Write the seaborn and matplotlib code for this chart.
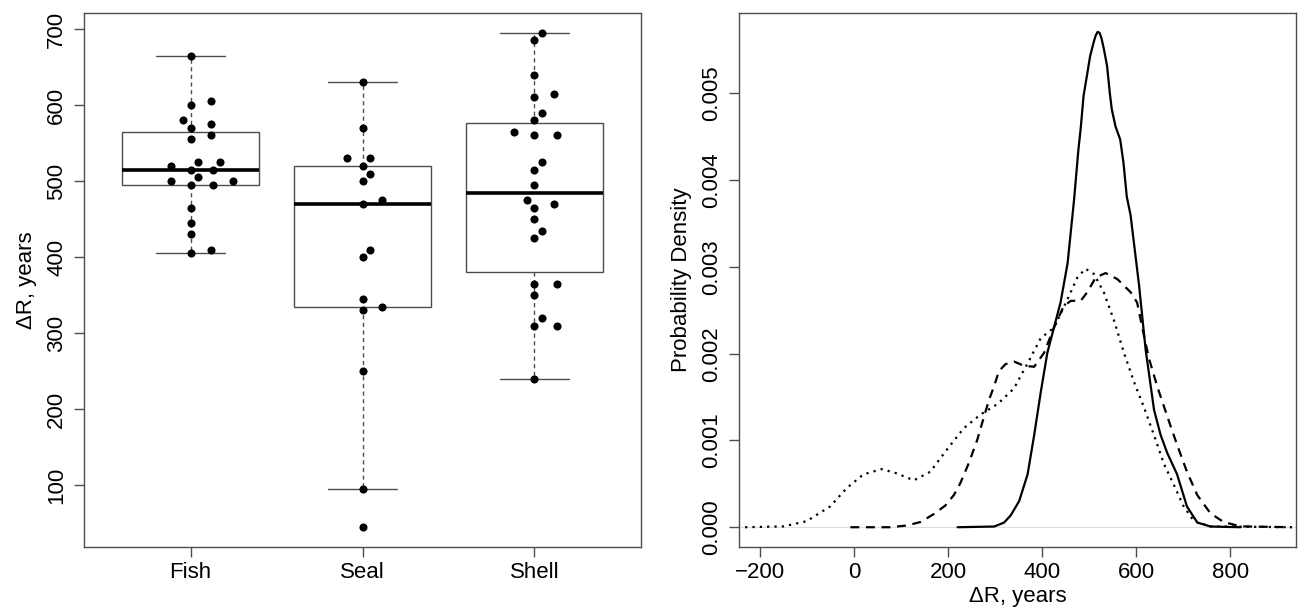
import matplotlib
matplotlib.use("Agg")
import matplotlib.pyplot as plt
import seaborn as sns
import pandas as pd

# data
groups = ["Fish", "Seal", "Shell"]
fish = [665, 605, 600, 580, 575, 570, 560, 555, 525, 525, 520, 515, 515, 505, 500, 500, 495, 495, 465, 445, 430, 410, 405]
fish_jit = [0, .116, 0, -.042, .116, 0, .116, 0, .042, .174, -.116, 0, .132, .042, -.116, .248, .132, 0, 0, 0, 0, .116, 0]
seal = [630, 570, 530, 530, 520, 510, 500, 475, 470, 410, 400, 345, 335, 330, 250, 95, 45]
seal_jit = [0, 0, -.089, .042, 0, .042, 0, .116, 0, .042, 0, 0, .116, 0, 0, 0, 0]
shell = [695, 685, 640, 615, 610, 590, 580, 565, 560, 560, 525, 515, 495, 475, 470, 465, 450, 435, 425, 365, 365, 350, 320, 310, 310, 240]
shell_jit = [.042, 0, 0, .116, 0, .042, 0, -.116, 0, .132, .042, 0, 0, -.042, .116, 0, 0, .042, 0, 0, .132, 0, .042, 0, .132, 0]

# density curves (x in years, density in 1e-3)
fish_x = [220, 298, 319, 333, 351, 369, 383, 397, 411, 425, 439, 454, 468, 477, 482, 488, 495, 502, 510, 514, 518,
          522, 526, 531, 538, 544, 548, 556, 566, 573, 580, 588, 606, 620, 638, 652, 666, 687, 708, 730, 758, 822]
fish_d = [0, 0.008, 0.054, 0.136, 0.301, 0.610, 1.063, 1.558, 2.011, 2.300, 2.588, 3.041, 3.783, 4.35, 4.6, 4.97, 5.2,
          5.43, 5.60, 5.67, 5.71, 5.70, 5.64, 5.52, 5.32, 5.0, 4.82, 4.62, 4.47, 4.2, 3.81, 3.60, 2.794, 2.052, 1.352,
          1.063, 0.857, 0.610, 0.239, 0.054, 0.008, 0]
shell_x = [-8, 77, 112, 141, 169, 194, 212, 226, 244, 262, 276, 287, 298, 308, 322, 340, 362, 383, 404, 425, 446, 461,
           482, 496, 514, 535, 560, 588, 602, 613, 627, 645, 666, 687, 708, 730, 758, 786, 822, 931]
shell_d = [0, 0, 0.02, 0.06, 0.15, 0.25, 0.37, 0.51, 0.74, 1.01, 1.27, 1.47, 1.63, 1.80, 1.88, 1.91, 1.86, 1.85, 2.01,
           2.30, 2.55, 2.61, 2.61, 2.71, 2.88, 2.93, 2.86, 2.71, 2.59, 2.30, 1.95, 1.62, 1.28, 0.95, 0.64, 0.37, 0.16,
           0.06, 0.01, 0]
seal_x = [-232, -150, -101, -51, -16, 20, 59, 91, 127, 162, 198, 233, 269, 305, 340, 369, 397, 425, 454, 475, 492, 510,
          531, 553, 574, 595, 616, 638, 659, 680, 701, 723, 758, 931]
seal_d = [0, 0.01, 0.07, 0.24, 0.45, 0.61, 0.67, 0.62, 0.54, 0.64, 0.90, 1.14, 1.30, 1.42, 1.60, 1.89, 2.18, 2.30,
          2.63, 2.88, 2.98, 2.92, 2.71, 2.38, 2.01, 1.68, 1.39, 1.06, 0.73, 0.49, 0.24, 0.07, 0.01, 0]

sns.set_style("ticks")
plt.rcParams["font.family"] = ["Liberation Sans", "DejaVu Sans"]
plt.rcParams["font.size"] = 16
plt.rcParams["text.color"] = "black"
plt.rcParams["axes.labelcolor"] = "black"

vals = fish + seal + shell
grp = ["Fish"] * len(fish) + ["Seal"] * len(seal) + ["Shell"] * len(shell)
jit = fish_jit + seal_jit + shell_jit
df = pd.DataFrame({"group": grp, "value": vals, "jit": jit})
df["xpos"] = df["group"].map({g: i for i, g in enumerate(groups)}) + df["jit"]

fig = plt.figure(figsize=(12.98, 6.09), dpi=100)
W, H = 1298, 609
ax1 = fig.add_axes([84 / W, 1 - 547 / H, 557 / W, 534 / H])
ax2 = fig.add_axes([739 / W, 1 - 547 / H, 557 / W, 534 / H])

frame = "#4d4d4d"

# left: boxplot + points
sns.boxplot(data=df, x="group", y="value", order=groups, ax=ax1, width=0.8,
            color="white", linecolor=frame, linewidth=1, showfliers=False,
            medianprops=dict(color="black", linewidth=2.6),
            whiskerprops=dict(linestyle=(0, (3, 2.5)), color=frame),
            capprops=dict(color=frame))
sns.scatterplot(data=df, x="xpos", y="value", ax=ax1, color="black", s=34,
                linewidth=0, zorder=5)
ax1.set_xlim(-0.62, 2.62)
ax1.set_ylim(19, 721)
ax1.set_xticks(range(3))
ax1.set_xticklabels(groups)
ax1.set_yticks(range(100, 701, 100))
ax1.set_xlabel("")
ax1.set_ylabel("ΔR, years", labelpad=7)

# right: density curves
ax2.axhline(0, color="#dddddd", lw=0.8, zorder=0)
sns.lineplot(x=fish_x, y=[d / 1000 for d in fish_d], ax=ax2, color="black", lw=1.6)
sns.lineplot(x=shell_x, y=[d / 1000 for d in shell_d], ax=ax2, color="black", lw=1.6,
             linestyle=(0, (4, 3)))
sns.lineplot(x=seal_x, y=[d / 1000 for d in seal_d], ax=ax2, color="black", lw=1.6,
             linestyle=(0, (1, 2.3)))
ax2.set_xlim(-245, 940)
ax2.set_ylim(-0.000228, 0.005928)
ax2.set_xticks(range(-200, 801, 200))
ax2.set_yticks([0, 0.001, 0.002, 0.003, 0.004, 0.005])
ax2.set_yticklabels(["0.000", "0.001", "0.002", "0.003", "0.004", "0.005"])
ax2.set_xlabel("ΔR, years", labelpad=2)
ax2.set_ylabel("Probability Density", labelpad=7)

for ax in (ax1, ax2):
    for s in ax.spines.values():
        s.set_visible(True)
        s.set_color(frame)
        s.set_linewidth(1)
    ax.tick_params(direction="out", length=7, width=1, color=frame, labelsize=16,
                   labelcolor="black")
    ax.tick_params(axis="x", pad=4)
    ax.tick_params(axis="y", pad=5)
    for lab in ax.get_yticklabels():
        lab.set_rotation(90)
        lab.set_va("center")

fig.savefig("out.png", dpi=100)
